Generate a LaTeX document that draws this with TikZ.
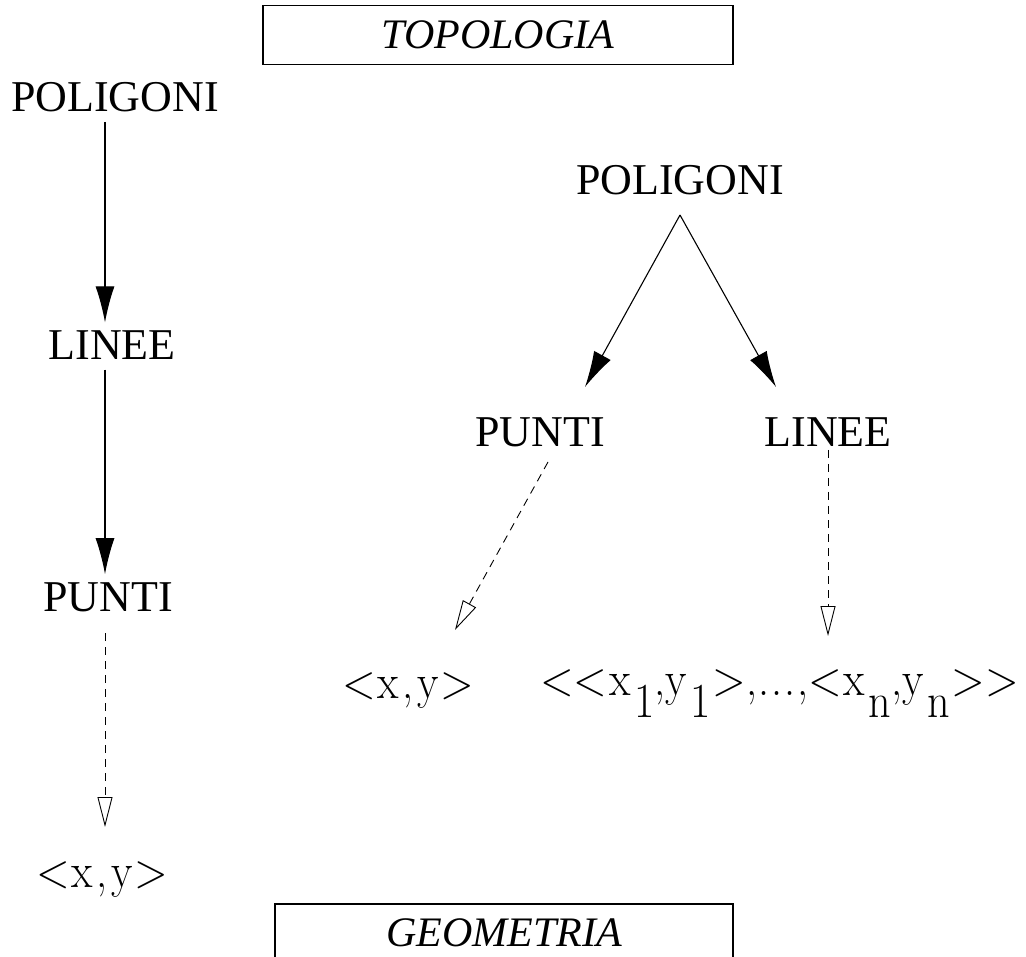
\documentclass[tikz,border=0pt]{standalone}
\usepackage{fontspec}
\usepackage{graphicx}
\setmainfont{Liberation Serif}
\usetikzlibrary{arrows.meta}
\usetikzlibrary{positioning}
\newcommand{\lmtext}{\fontfamily{lmr}\selectfont}
\newcommand{\lo}[1]{\raisebox{-0.45em}{\kern4pt#1}}
\newcommand{\tupla}[1]{\scalebox{0.9}[1]{#1}}
\tikzset{
level/.style = { draw = none, fill = none, inner sep = 0pt, font = \fontsize{44}{50}\selectfont },
tuple/.style = { draw = none, fill = none, inner sep = 0pt, font = \fontsize{49}{56}\lmtext },
layer/.style = { rectangle, draw = black, line width = 1.2pt, fill = white, font = \fontsize{42}{46}\selectfont\itshape },
link/.style = { draw = black, line width = 1.1pt, -{Latex[length=36pt, width=19pt]} },
ref/.style = { draw = black, line width = 0.9pt, dash pattern = on 8pt off 6pt, -{Triangle[open, length=30pt, width=15pt, line width=0.9pt]} },
}

\begin{document}
\begin{tikzpicture}[x=1pt, y=-1pt]
      \useasboundingbox (0,0) rectangle (1026,957);
      % riquadri
      \node[layer, inner sep = 0pt, minimum width = 470pt, minimum height = 59pt] (topo) at (498, 35) {TOPOLOGIA};
      \node[layer, minimum width = 458pt, minimum height = 110pt] (geom) at (504, 959) {};
      \node[font = \fontsize{42}{46}\selectfont\itshape, inner sep = 0pt] (geomtxt) at (504, 933) {GEOMETRIA};
      % gerarchia a sinistra
      \begin{scope}[every node/.style = {level}]
        \node (lpol) at (115, 97) {POLIGONI};
        \node (llin) at (112, 345) {LINEE};
        \node (lpun) at (108, 597) {PUNTI};
      \end{scope}
      \node[tuple] (lxy) at (102, 880) {\tupla{<{\kern2pt}x{\kern4pt},{\kern4pt}y{\kern2pt}>}};
      % gerarchia a destra
      \begin{scope}[every node/.style = {level}]
        \node (rpol) at (680, 180) {POLIGONI};
        \node (rpun) at (540, 432) {PUNTI};
        \node (rlin) at (828, 432) {LINEE};
      \end{scope}
      \node[tuple] (rxy) at (408, 691) {\tupla{<{\kern2pt}x{\kern4pt},{\kern4pt}y{\kern2pt}>}};
      \node[tuple, anchor = west] (rseq) at (540, 694) {\tupla{<{}<{\kern2pt}x\lo{1},y\lo{1}{\kern2pt}>,{\kern2pt}.{\kern2pt}.{\kern2pt}.{\kern2pt},<{\kern2pt}x\lo{n},y\lo{n}{\kern2pt}>{}>}};
      % collegamenti
      \coordinate (lx) at (105, 0);
      \coordinate (rtop) at (680, 215);
      \coordinate (lend) at (105, 827);
      \begin{scope}[shorten <= 10pt, shorten >= 8pt]
        \path (lpol.south -| lx) edge [link] (llin.north -| lx);
        \path (llin.south -| lx) edge [link] (lpun.north -| lx);
      \end{scope}
      \path (105, 633) edge [ref] (lend);
      \path (rtop) edge [link] (585, 387);
      \path (rtop) edge [link] (776, 387);
      \path (548, 462) edge [ref] (455, 630);
      \path (828, 450) edge [ref] (828, 636);
    \end{tikzpicture}
\end{document}
